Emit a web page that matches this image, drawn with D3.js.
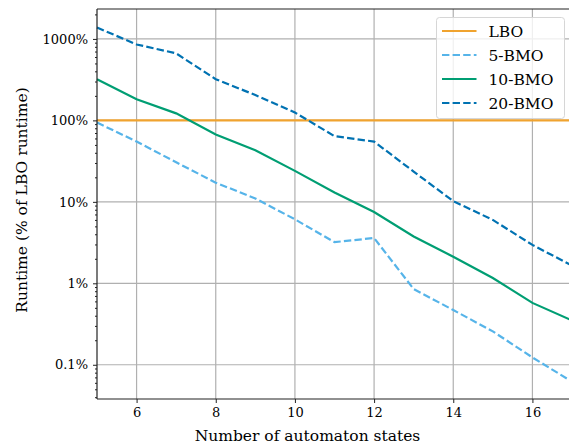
<!DOCTYPE html>
<html>
<head>
<meta charset="utf-8">
<script src="https://cdn.jsdelivr.net/npm/d3@7"></script>
<style>
  body { margin: 0; background: #fff; }
  svg { display: block; }
  text { font-family: "DejaVu Serif", serif; fill: #000; }
</style>
</head>
<body>
<div id="chart"></div>
<script>
// data (runtime in % of LBO runtime)
var states = [5, 6, 7, 8, 9, 10, 11, 12, 13, 14, 15, 16, 17];
var lbo    = [100, 100, 100, 100, 100, 100, 100, 100, 100, 100, 100, 100, 100];
var bmo5   = [94, 55, 30.6, 17.2, 11, 6.1, 3.2, 3.6, 0.85, 0.47, 0.257, 0.123, 0.062];
var bmo10  = [320, 182, 122, 67, 43, 24, 13, 7.5, 3.75, 2.12, 1.16, 0.575, 0.35];
var bmo20  = [1380, 855, 665, 320, 205, 125, 64, 55, 23.5, 10.2, 6, 2.96, 1.65];
var xTicks = [6, 8, 10, 12, 14, 16];
var yTicks = [0.1, 1, 10, 100, 1000];
var yTickLabels = ["0.1%", "1%", "10%", "100%", "1000%"];

var series = [
  {name: "LBO",    values: lbo,   color: "#f0a32f", dash: null},
  {name: "5-BMO",  values: bmo5,  color: "#56b4e9", dash: "7.4,3.2"},
  {name: "10-BMO", values: bmo10, color: "#009e73", dash: null},
  {name: "20-BMO", values: bmo20, color: "#0072b2", dash: "7.4,3.2"}
];

var W = 569, H = 445;
var margin = {top: 9, right: -3, bottom: 46, left: 97},
    width = W - margin.left - margin.right,
    height = H - margin.top - margin.bottom;

var svg = d3.select("#chart")
  .append("svg")
    .attr("width", W)
    .attr("height", H)
  .append("g")
    .attr("transform", "translate(" + margin.left + "," + margin.top + ")");

var x = d3.scaleLinear()
  .domain([5, 17])
  .range([0, width]);

var y = d3.scaleLog()
  .domain([0.038, 2330])
  .range([height, 0]);

// grid
svg.append("g")
  .selectAll("line.vg")
  .data(xTicks)
  .enter().append("line")
    .attr("x1", function(d) { return x(d); })
    .attr("x2", function(d) { return x(d); })
    .attr("y1", 0).attr("y2", height)
    .attr("stroke", "#b0b0b0").attr("stroke-width", 1.2);
svg.append("g")
  .selectAll("line.hg")
  .data(yTicks)
  .enter().append("line")
    .attr("x1", 0).attr("x2", width)
    .attr("y1", function(d) { return y(d); })
    .attr("y2", function(d) { return y(d); })
    .attr("stroke", "#b0b0b0").attr("stroke-width", 1.2);

// lines
var line = d3.line()
  .x(function(d, i) { return x(states[i]); })
  .y(function(d) { return y(d); });

svg.append("g")
  .selectAll("path")
  .data(series)
  .enter().append("path")
    .attr("d", function(d) { return line(d.values); })
    .attr("fill", "none")
    .attr("stroke", function(d) { return d.color; })
    .attr("stroke-width", 2.2)
    .attr("stroke-dasharray", function(d) { return d.dash; });

// axes
var xAxis = svg.append("g")
  .attr("transform", "translate(0," + height + ")")
  .call(d3.axisBottom(x).tickValues(xTicks).tickSize(4).tickPadding(5).tickFormat(d3.format("d")));

var minor = [];
for (var e = -2; e <= 3; e++) {
  for (var m = 2; m <= 9; m++) {
    var v = m * Math.pow(10, e);
    if (v >= 0.038 && v <= 2330) minor.push(v);
  }
}
svg.append("g")
  .call(d3.axisLeft(y).tickValues(minor).tickSize(2).tickFormat(""))
  .call(function(g) { g.select(".domain").remove(); });

var yAxis = svg.append("g")
  .call(d3.axisLeft(y).tickValues(yTicks).tickSize(4).tickPadding(5)
    .tickFormat(function(d, i) { return yTickLabels[i]; }));

svg.selectAll(".tick text").style("font-size", "13px").style("font-family", "DejaVu Serif");
svg.selectAll(".tick line").attr("stroke", "#222").attr("stroke-width", 1);
svg.selectAll(".domain").attr("stroke", "#222").attr("stroke-width", 1.2);
xAxis.select(".domain").attr("d", "M0,0H" + width);
yAxis.select(".domain").attr("d", "M0," + height + "V0");

// top spine
svg.append("line")
  .attr("x1", 0).attr("x2", width).attr("y1", 0).attr("y2", 0)
  .attr("stroke", "#222").attr("stroke-width", 1.2);

// axis labels
svg.append("text")
  .attr("x", 307.5 - margin.left)
  .attr("y", height + 42)
  .attr("text-anchor", "middle")
  .style("font-size", "15.5px")
  .text("Number of automaton states");

svg.append("text")
  .attr("transform", "translate(" + (-70) + "," + (191) + ") rotate(-90)")
  .attr("text-anchor", "middle")
  .style("font-size", "15.5px")
  .text("Runtime (% of LBO runtime)");

// legend
var lg = svg.append("g").attr("transform", "translate(" + (436.5 - margin.left) + "," + (17.5 - margin.top) + ")");
lg.append("rect")
  .attr("width", 128).attr("height", 101)
  .attr("rx", 3)
  .attr("fill", "#fff").attr("fill-opacity", 0.8)
  .attr("stroke", "#d6d6d6");
var item = lg.selectAll("g.item")
  .data(series)
  .enter().append("g")
    .attr("transform", function(d, i) { return "translate(0," + (13.5 + i * 24) + ")"; });
item.append("line")
  .attr("x1", 5.5).attr("x2", 40)
  .attr("stroke", function(d) { return d.color; })
  .attr("stroke-width", 2.2)
  .attr("stroke-dasharray", function(d) { return d.dash; });
item.append("text")
  .attr("x", 52)
  .attr("dy", "0.36em")
  .style("font-size", "15.5px")
  .text(function(d) { return d.name; });
</script>
</body>
</html>
